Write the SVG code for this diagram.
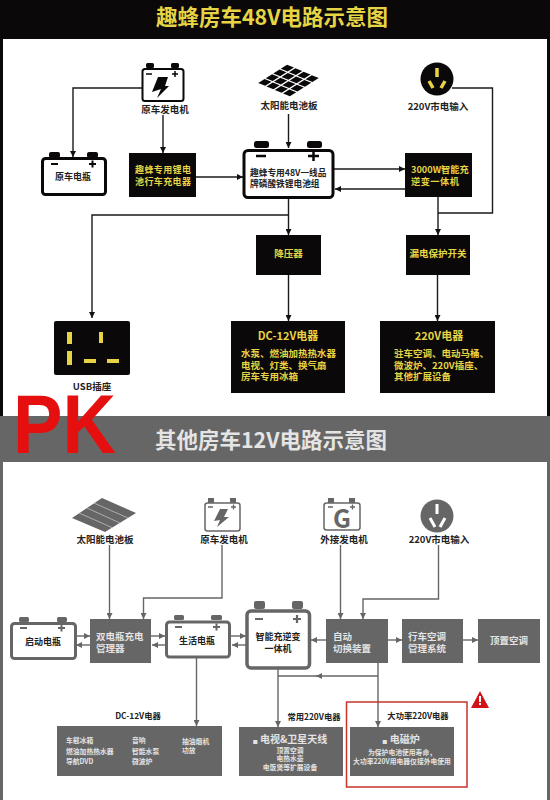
<svg xmlns="http://www.w3.org/2000/svg" width="550" height="800" viewBox="0 0 550 800">
<style>
text{font-family:"Noto Sans CJK SC","Liberation Sans",sans-serif;font-weight:700}
.k{fill:#0a0808}.g{fill:#666}
.y{fill:#e6d445}.w{fill:#e4e4e4}.t{fill:#222}
.m{text-anchor:middle}
.s95{font-size:9.500px}.s9{font-size:9px}.s11{font-size:11px}.s8{font-size:8.300px}.s7{font-size:6.800px}
.bk{fill:#fff;stroke:#0a0808;stroke-width:3}
.bg{fill:#fff;stroke:#666;stroke-width:3}
.lk{fill:none;stroke:#1a1a1a;stroke-width:1.400}
.lg{fill:none;stroke:#666;stroke-width:1.400}
.ak{marker-end:url(#ak)}.ag{marker-end:url(#ag)}
.sq{font-size:5px}
</style>
<defs>
<marker id="ak" markerUnits="userSpaceOnUse" markerWidth="7" markerHeight="6" refX="6" refY="3" orient="auto"><path d="M0 0L6 3L0 6Z" fill="#111"/></marker>
<marker id="ag" markerUnits="userSpaceOnUse" markerWidth="7" markerHeight="6" refX="6" refY="3" orient="auto"><path d="M0 0L6 3L0 6Z" fill="#666"/></marker>
<g id="row"><rect x="0.02" width="0.21" height="0.21"/><rect x="0.27" width="0.21" height="0.21"/><rect x="0.52" width="0.21" height="0.21"/><rect x="0.77" width="0.21" height="0.21"/></g>
</defs>
<rect width="550" height="800" fill="#fff"/>
<g id="frame">
<rect width="550" height="39" class="k"/>
<rect y="39" width="3" height="377" class="k"/>
<rect x="547" y="39" width="3" height="377" class="k"/>
<rect y="416" width="550" height="46" class="g"/>
<rect y="462" width="3" height="338" class="g"/>
<rect x="547" y="462" width="3" height="338" class="g"/>
</g>
<text x="156" y="24.500" class="y" font-size="21.500" textLength="232" lengthAdjust="spacingAndGlyphs">趣蜂房车48V电路示意图</text>
<text x="155" y="447.500" class="w" font-size="21.500" textLength="232" lengthAdjust="spacingAndGlyphs">其他房车12V电路示意图</text>
<text x="13" y="453" fill="#e60f0f" font-size="83" style="font-family:'Liberation Sans',sans-serif" textLength="103" lengthAdjust="spacingAndGlyphs">PK</text>

<g id="connectors-top">
<path class="lk ak" d="M142 88H73V157"/>
<path class="lk ak" d="M163 115V153"/>
<path class="lk ak" d="M196 177H243"/>
<path class="lk ak" d="M288.500 114V148"/>
<path class="lk ak" d="M334 169H405"/>
<path class="lk ak" d="M405 189H335"/>
<path class="lk" d="M452 88H492.500V213H438"/>
<path class="lk ak" d="M438 197V235"/>
<path class="lk ak" d="M288.500 199V235"/>
<path class="lk ak" d="M288.500 215H92V318"/>
<path class="lk ak" d="M288.500 275V321"/>
<path class="lk ak" d="M437.500 275V321"/>
</g>
<g id="connectors-bottom">
<path class="lg ag" d="M109.500 545V619"/>
<path class="lg ag" d="M222 545V598H143.500V619"/>
<path class="lg ag" d="M340.500 545V619"/>
<path class="lg ag" d="M438.500 545V599H363V619"/>
<path class="lg ag" d="M76 636H90"/><path class="lg ag" d="M90 645H76"/>
<path class="lg ag" d="M151 636H165"/><path class="lg ag" d="M165 645H152"/>
<path class="lg ag" d="M231 636H246"/><path class="lg ag" d="M246 645H232"/>
<path class="lg ag" d="M326 640H311"/>
<path class="lg ag" d="M388 640H402"/>
<path class="lg ag" d="M463 640H478"/>
<path class="lg ag" d="M196.500 658V726"/>
<path class="lg ag" d="M378 663V727"/>
<path class="lg" d="M378 676H278"/>
<path class="lg ag" d="M320 676H316"/>
<path class="lg ag" d="M278 668V727"/>
</g>

<g id="generator-top">
<rect x="146" y="63" width="8" height="5" rx="1.500" class="k"/><rect x="171" y="63" width="8" height="5" rx="1.500" class="k"/>
<rect x="142.500" y="69" width="41" height="32" rx="2.500" class="bk" style="stroke-width:2"/>
<path d="M146 74h6M172 74h6M175 71v6" stroke="#0a0808" stroke-width="1.500" fill="none"/>
<polygon class="k" points="158,77 168,77 165,86 169,86 157,98 161,89 152,92"/>
<text x="165" y="113" class="t m s95">原车发电机</text>
</g>
<g id="orig-battery">
<rect x="49" y="152" width="11" height="6" rx="2" class="k"/><rect x="87" y="152" width="11" height="6" rx="2" class="k"/>
<rect x="42.500" y="158.500" width="63" height="36" rx="3" class="bk"/>
<path d="M51 164h7M89 164h7M92.500 160.500v7" stroke="#0a0808" stroke-width="2" fill="none"/>
<text x="73" y="180" class="t m s9">原车电瓶</text>
</g>
<g id="charger">
<rect x="129" y="153" width="67" height="44" class="k"/>
<text class="y s9" letter-spacing="0.400"><tspan x="135" y="173">趣蜂专用锂电</tspan><tspan x="135" y="185">池行车充电器</tspan></text>
</g>
<g id="solar-top">
<g transform="matrix(33 14 -30 19 287 64)" fill="#0a0808">
<use href="#row" y="0.02"/><use href="#row" y="0.27"/><use href="#row" y="0.52"/><use href="#row" y="0.77"/>
</g>
<text x="289" y="109" class="t m s95">太阳能电池板</text>
</g>
<g id="lithium-pack">
<rect x="254" y="141" width="15" height="7" rx="2.500" class="k"/><rect x="307" y="141" width="15" height="7" rx="2.500" class="k"/>
<rect x="244" y="150.500" width="89" height="47" rx="4" class="bk"/>
<path d="M256 156h10M308 156h11M313.500 151v10" stroke="#0a0808" stroke-width="2.500" fill="none"/>
<text class="t" font-size="8.700"><tspan x="250" y="175.500">趣蜂专用48V一线品</tspan><tspan x="250" y="187">牌磷酸铁锂电池组</tspan></text>
</g>
<g id="socket-top">
<circle cx="437" cy="79" r="16.500" class="k"/>
<path d="M437 68V77M429 81L433 88M445 81L441 88" stroke="#e6d445" stroke-width="3.500" fill="none"/>
<text x="438" y="110" class="t m s95">220V市电输入</text>
</g>
<g id="inverter-top">
<rect x="405" y="153" width="67" height="44" class="k"/>
<text class="y" font-size="9.200"><tspan x="411" y="173">3000W智能充</tspan><tspan x="411" y="185" letter-spacing="0.500">逆变一体机</tspan></text>
</g>
<g id="step-down">
<rect x="256" y="235" width="65" height="40" class="k"/>
<text x="288.500" y="257" class="y m s95">降压器</text>
</g>
<g id="leak-switch">
<rect x="406" y="235" width="64" height="40" class="k"/>
<text x="438" y="257" class="y m s95">漏电保护开关</text>
</g>
<g id="usb">
<rect x="54" y="321" width="76" height="54" rx="2" class="k"/>
<g class="y"><rect x="67" y="332" width="5" height="12"/><rect x="67" y="351" width="5" height="14"/><rect x="99" y="332" width="4" height="11"/><rect x="84" y="359" width="12" height="4"/><rect x="107" y="359" width="12" height="4"/></g>
<text x="92" y="390" class="t m s95">USB插座</text>
</g>
<g id="dc-top">
<rect x="231" y="321" width="114" height="72" class="k"/>
<text x="288" y="340" class="y m s11">DC-12V电器</text>
<text class="y s95"><tspan x="241" y="357">水泵、燃油加热热水器</tspan><tspan x="241" y="369">电视、灯类、换气扇</tspan><tspan x="241" y="380">房车专用冰箱</tspan></text>
</g>
<g id="ac-top">
<rect x="380" y="321" width="115" height="72" class="k"/>
<text x="439" y="340" class="y m s11">220V电器</text>
<text class="y s95"><tspan x="394" y="357">驻车空调、电动马桶、</tspan><tspan x="394" y="369">微波炉、220V插座、</tspan><tspan x="394" y="380">其他扩展设备</tspan></text>
</g>

<g id="solar-bottom">
<polygon class="g" points="102,498 136,513 105,532 72,518"/>
<path d="M94,503L128,518M87,508L120,523M79,513L113,528" stroke="#ccc" stroke-width="0.700" fill="none"/>
<text x="105" y="543" class="t m s95">太阳能电池板</text>
</g>
<g id="generator-bottom">
<rect x="208" y="498" width="6" height="5" class="g"/><rect x="230" y="498" width="6" height="5" class="g"/>
<rect x="205" y="503" width="35" height="28" rx="2.500" class="bg" style="stroke-width:1.500"/>
<path d="M208 507h5M231 507h5M233.500 504.500v5" stroke="#666" stroke-width="1.300" fill="none"/>
<polygon class="g" points="220,509 228,509 224,517 229,517 217,527 220,520 214,521"/>
<text x="224" y="543" class="t m s95">原车发电机</text>
</g>
<g id="generator-ext">
<rect x="328" y="498" width="6" height="5" class="g"/><rect x="349" y="498" width="6" height="5" class="g"/>
<rect x="324" y="503" width="36" height="27" rx="2.500" class="bg" style="stroke-width:1.500"/>
<path d="M328 507h5M350 507h5M352.500 504.500v5" stroke="#666" stroke-width="1.300" fill="none"/>
<text x="342" y="528" class="g m" font-size="25">G</text>
<text x="344" y="543" class="t m s95">外接发电机</text>
</g>
<g id="socket-bottom">
<circle cx="437" cy="516" r="16.500" class="g"/>
<path d="M437 504V514M430 518L435 527M445 518L440 527" stroke="#fff" stroke-width="3" fill="none"/>
<text x="439" y="543" class="t m s95">220V市电输入</text>
</g>
<g id="start-battery">
<rect x="19" y="617" width="10" height="5" rx="1.500" class="g"/><rect x="57" y="617" width="10" height="5" rx="1.500" class="g"/>
<rect x="11.500" y="623.500" width="64" height="35" rx="3" class="bg"/>
<path d="M20 628h7M58 628h7M61.500 624.500v7" stroke="#666" stroke-width="2" fill="none"/>
<text x="43" y="644.500" class="t m s9">启动电瓶</text>
</g>
<g id="dual-charger">
<rect x="90" y="619" width="61" height="44" class="g"/>
<text class="w s95"><tspan x="96" y="640">双电瓶充电</tspan><tspan x="96" y="651.500">管理器</tspan></text>
</g>
<g id="life-battery">
<rect x="174" y="615" width="10" height="5" rx="1.500" class="g"/><rect x="211" y="615" width="11" height="5" rx="1.500" class="g"/>
<rect x="166.500" y="622" width="63" height="35" rx="3" class="bg"/>
<path d="M175 627h7M213 627h7M216.500 623.500v7" stroke="#666" stroke-width="2" fill="none"/>
<text x="197" y="643.500" class="t m s9">生活电瓶</text>
</g>
<g id="inverter-bottom">
<rect x="254" y="601" width="11" height="8" rx="2" class="g"/><rect x="292" y="601" width="11" height="8" rx="2" class="g"/>
<rect x="247" y="611" width="62.500" height="57" rx="4" class="bg" style="stroke-width:3.500"/>
<path d="M255 619h8M293 619h8M297 615v8" stroke="#666" stroke-width="2.200" fill="none"/>
<text class="t m s9"><tspan x="278" y="640">智能充逆变</tspan><tspan x="278" y="651.500">一体机</tspan></text>
</g>
<g id="auto-switch">
<rect x="326" y="619" width="62" height="44" class="g"/>
<text class="w s95"><tspan x="333" y="639.500">自动</tspan><tspan x="333" y="651.500">切换装置</tspan></text>
</g>
<g id="ac-manager">
<rect x="402" y="619" width="61" height="44" class="g"/>
<text class="w s95"><tspan x="408" y="639.500">行车空调</tspan><tspan x="408" y="651.500">管理系统</tspan></text>
</g>
<g id="roof-ac">
<rect x="478" y="619" width="62" height="44" class="g"/>
<text x="509" y="643.500" class="w m s95">顶置空调</text>
</g>
<g id="dc-bottom">
<text x="138" y="719" class="t m s8">DC-12V电器</text>
<rect x="57" y="726" width="165" height="50" class="g"/>
<text class="w s7"><tspan x="66" y="743">车载冰箱</tspan><tspan x="66" y="754">燃油加热热水器</tspan><tspan x="66" y="764">导航DVD</tspan></text>
<text class="w s7"><tspan x="132" y="743">音响</tspan><tspan x="132" y="754">智能水泵</tspan><tspan x="132" y="764">微波炉</tspan></text>
<text class="w s7"><tspan x="182" y="744">抽油烟机</tspan><tspan x="182" y="753">功放</tspan></text>
</g>
<g id="ac-common">
<text x="314" y="720" class="t m s8">常用220V电器</text>
<rect x="239" y="727" width="104" height="49" class="g"/>
<text x="290" y="743" class="w m" font-size="10"><tspan class="sq">■</tspan> 电视&amp;卫星天线</text>
<text class="w m s7"><tspan x="290" y="753">顶置空调</tspan><tspan x="290" y="761">电热水壶</tspan><tspan x="290" y="769.500">电饭煲等扩展设备</tspan></text>
</g>
<g id="ac-high">
<rect x="346.500" y="702" width="120.500" height="85" fill="none" stroke="#c8332b" stroke-width="1.500"/>
<text x="418" y="719" class="t m s8">大功率220V电器</text>
<rect x="350" y="727" width="104" height="49" class="g"/>
<text x="401" y="743" class="w m" font-size="10"><tspan class="sq">■</tspan> 电磁炉</text>
<text class="w m s7"><tspan x="402" y="755">为保护电池使用寿命，</tspan><tspan x="402" y="764">大功率220V用电器仅接外电使用</tspan></text>
</g>
<g id="warning">
<polygon points="480,691 489,708 471,708" fill="#d0121b"/>
<rect x="479" y="696" width="2" height="6" fill="#fff"/><rect x="479" y="703" width="2" height="2" fill="#fff"/>
</g>
</svg>
